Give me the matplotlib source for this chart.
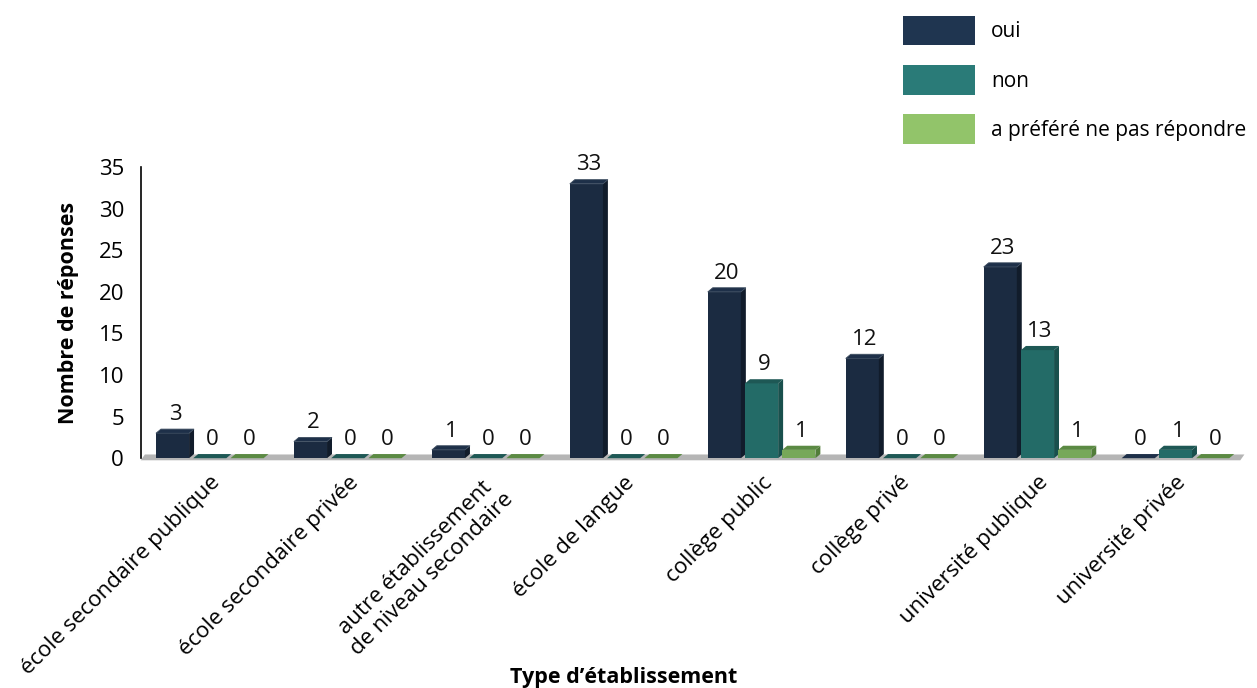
import matplotlib.pyplot as plt
from matplotlib.patches import Polygon, Patch

plt.rcParams['font.family'] = ['Open Sans', 'DejaVu Sans']

categories = ['école secondaire publique', 'école secondaire privée',
              'autre établissement\nde niveau secondaire', 'école de langue',
              'collège public', 'collège privé', 'université publique',
              'université privée']
series = ['oui', 'non', 'a préféré ne pas répondre']
oui = [3, 2, 1, 33, 20, 12, 23, 0]
non = [0, 0, 0, 0, 9, 0, 13, 1]
pref = [0, 0, 0, 0, 1, 0, 1, 0]
values = [oui, non, pref]

# front, side, top colours per series, plus legend colour
front = ['#1b2b41', '#236b67', '#77a859']
side = ['#111c2b', '#19504d', '#527d3a']
top = ['#1e3049', '#1e5855', '#5b8a43']
legend_col = ['#1f3550', '#2a7b78', '#92c46a']

offsets = [-0.27, 0.0, 0.27]
width = 0.24
dx = 0.036   # depth in x (data units)
dy = 0.5     # depth in y (data units)

fig = plt.figure(figsize=(12.57, 6.88), dpi=100)
ax = fig.add_axes([0.112, 0.334, 0.878, 0.423])
ax.set_xlim(-0.5, len(categories) - 0.5)
ax.set_ylim(0, 35)

# grey floor
x0, x1 = -0.5, len(categories) - 0.5
floor = Polygon([(x0, -0.25), (x1 - 0.03, -0.25), (x1, 0.45), (x0 + 0.03, 0.45)],
                closed=True, facecolor='#b5b5b5', edgecolor='none',
                zorder=1, clip_on=False)
ax.add_patch(floor)

for s in range(3):
    for i, v in enumerate(values[s]):
        left = i + offsets[s] - width / 2
        right = left + width
        # front face
        ax.add_patch(Polygon([(left, 0), (right, 0), (right, v), (left, v)],
                             facecolor=front[s], edgecolor='none', zorder=3,
                             clip_on=False))
        # side face
        ax.add_patch(Polygon([(right, 0), (right + dx, dy), (right + dx, v + dy), (right, v)],
                             facecolor=side[s], edgecolor='none', zorder=3,
                             clip_on=False))
        # top face
        ax.add_patch(Polygon([(left, v), (right, v), (right + dx, v + dy), (left + dx, v + dy)],
                             facecolor=top[s], edgecolor='#3d4d60' if s == 0 and v > 0 else 'none',
                             linewidth=0.6, zorder=4, clip_on=False))
        ax.annotate(str(v), xy=(left + (width + dx) / 2, v + dy), xytext=(0, 3),
                    textcoords='offset points', ha='center', va='bottom',
                    fontsize=16, color='#111111', zorder=5)

ax.set_yticks(range(0, 36, 5))
ax.set_xticks(range(len(categories)))
ax.set_xticklabels(categories, rotation=45, ha='right', rotation_mode='anchor',
                   fontsize=16, multialignment='center')
ax.tick_params(axis='y', length=0, labelsize=16, pad=12)
ax.tick_params(axis='x', length=0, pad=10)
for sp in ['top', 'right', 'bottom']:
    ax.spines[sp].set_visible(False)
ax.spines['left'].set_linewidth(1.2)
ax.spines['left'].set_position(('data', -0.5))
ax.set_ylabel('Nombre de réponses', fontsize=15.5, fontweight='bold', labelpad=14)

fig.text(0.496, 0.0, 'Type d’établissement', ha='center', va='bottom',
         fontsize=15.5, fontweight='bold')

handles = [Patch(facecolor=c, edgecolor='none') for c in legend_col]
fig.legend(handles, series, loc='upper left', bbox_to_anchor=(0.718, 0.977),
           frameon=False, fontsize=15, handlelength=3.46, handleheight=1.8,
           labelspacing=0.95, handletextpad=0.8, borderpad=0, borderaxespad=0)

fig.savefig('out.png', dpi=100)
